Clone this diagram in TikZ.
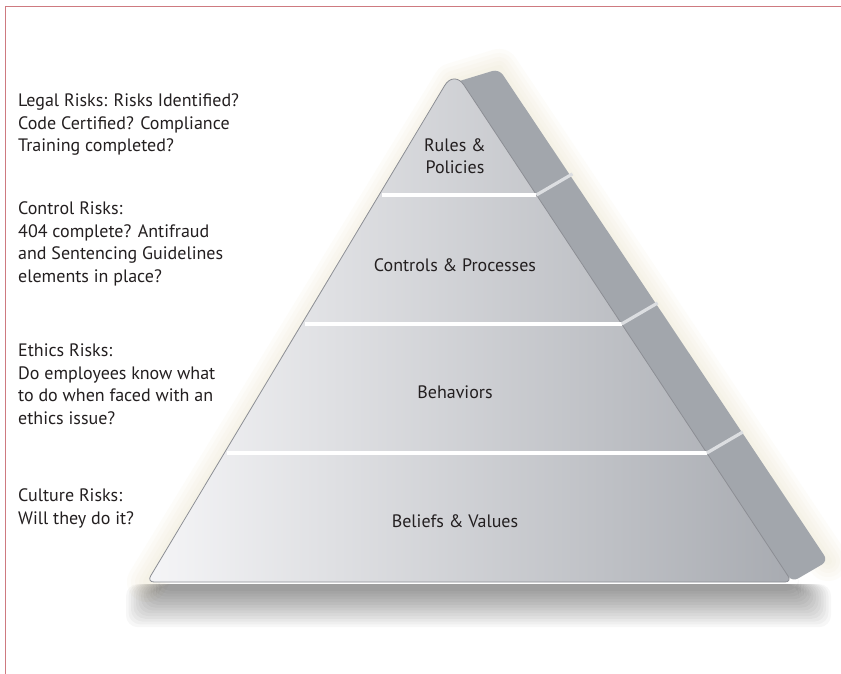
\documentclass[tikz,border=0pt]{standalone}
\usepackage{fontspec}
\setmainfont{PT Sans}
\usetikzlibrary{calc}
\definecolor{framered}{RGB}{206,122,128}
\definecolor{textgrey}{RGB}{35,31,32}
\definecolor{faceleft}{RGB}{245,245,247}
\definecolor{facemid}{RGB}{208,210,214}
\definecolor{faceright}{RGB}{168,171,177}
\definecolor{sidegrey}{RGB}{162,166,172}
\definecolor{sidesep}{RGB}{220,222,225}
\definecolor{edgegrey}{RGB}{140,142,148}
\definecolor{glow}{RGB}{236,228,200}

\tikzset{
  risk/.style={align=left, anchor=base west, text=textgrey, inner sep=0,
               font=\fontsize{18}{22.5}\selectfont},
  layer/.style={align=center, text=textgrey, inner sep=0,
                font=\fontsize{18}{22}\selectfont},
  sepline/.style={white, line width=3.2},
  sideline/.style={sidesep, line width=3.2}
}

\begin{document}
\begin{tikzpicture}[x=1pt,y=-1pt]
    \useasboundingbox (0,0) rectangle (841,674);
    \fill[white] (0,0) rectangle (841,674);
    \draw[framered, line width=1.5] (5.5,674) -- (5.5,6.5) -- (841,6.5);

    % corners of the pyramid
    \coordinate (apex) at (454,70);
    \coordinate (fronttop) at (453,83);
    \coordinate (bl) at (147,582);
    \coordinate (br) at (792,582);
    \coordinate (sidetop) at (499,69);
    \coordinate (sidebr) at (828,561);

    % soft glow and shadow
    \foreach \w in {40,32,...,8}
        \draw[glow, line width=\w, opacity=0.1, line join=round, line cap=round]
            (bl) -- (fronttop) -- (sidetop) -- (sidebr);
    \foreach \i in {1,...,14}
        \fill[black, opacity=0.03, rounded corners=12]
            ($(bl)+(14-2.5*\i,2)$) rectangle ($(br)+(4+2.5*\i,6+2.8*\i)$);

    % side face
    \fill[sidegrey, rounded corners=7] (fronttop) -- (sidetop) -- (sidebr) -- (br) -- cycle;
    % front face
    \shadedraw[left color=faceleft, middle color=facemid, right color=faceright,
               draw=edgegrey, line width=0.8]
        (bl) [rounded corners=18] -- (apex) [rounded corners=7] -- (br) -- cycle;

    % layer separators
    \foreach \t in {0.244,0.496,0.748} {
        \draw[sepline] ($(apex)!\t!(bl)+(3,0)$) -- ($(apex)!\t!(br)$);
        \draw[sideline] ($(apex)!\t!(br)$) -- ++(36,-21);
    }

    % layer labels
    \node[layer] (rules) at (455,156) {Rules \&\\Policies};
    \node[layer] (controls) at (455,265) {Controls \& Processes};
    \node[layer] (behaviors) at (455,392) {Behaviors};
    \node[layer] (beliefs) at (455,521) {Beliefs \& Values};

    % risk texts (anchored at the last line)
    \node[risk] (legal) at (18,152) {Legal Risks: Risks Identified?\\Code Certified? Compliance\\Training completed?};
    \node[risk] (control) at (18,282) {Control Risks:\\404 complete? Antifraud\\and Sentencing Guidelines\\elements in place?};
    \node[risk] (ethics) at (18,424) {Ethics Risks:\\Do employees know what\\to do when faced with an\\ethics issue?};
    \node[risk] (culture) at (18,524) {Culture Risks:\\Will they do it?};
\end{tikzpicture}
\end{document}
